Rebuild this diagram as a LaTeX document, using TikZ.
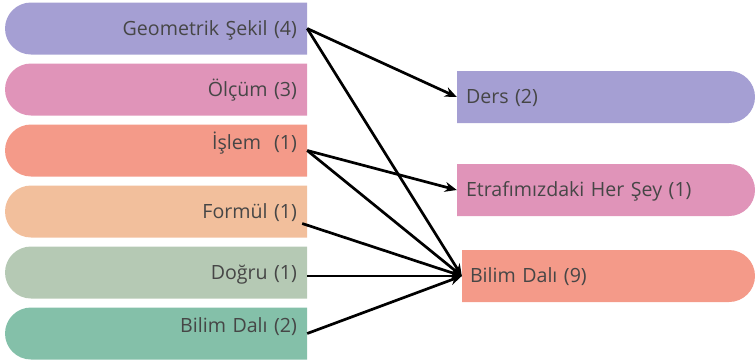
\documentclass[tikz,border=0pt]{standalone}
\usepackage{fontspec}
\setmainfont{Open Sans}
\usetikzlibrary{positioning, arrows.meta}
\definecolor{lila}{RGB}{165,159,211}
\definecolor{pembe}{RGB}{224,148,185}
\definecolor{somon}{RGB}{244,154,137}
\definecolor{seftali}{RGB}{242,191,156}
\definecolor{adacayi}{RGB}{181,201,180}
\definecolor{yesil}{RGB}{132,192,169}
\definecolor{yazi}{RGB}{70,70,70}
\tikzset{
  lbox/.style={rectangle, minimum width=302pt, minimum height=52pt, text width=282pt, inner xsep=10pt, align=right,
    text height=17.5pt, text depth=4pt, text=yazi, font=\fontsize{19.6}{22}\selectfont,
    path picture={\fill[#1] (path picture bounding box.north east) -- (path picture bounding box.south east)
      -- ([xshift=26pt]path picture bounding box.south west) arc[start angle=270, end angle=90, radius=26pt] -- cycle;}},
  rbox/.style={rectangle, minimum width=298pt, minimum height=52pt, text width=280pt, inner xsep=9pt, align=left,
    text height=17pt, text depth=4pt, text=yazi, font=\fontsize{19.6}{22}\selectfont,
    path picture={\fill[#1] (path picture bounding box.north west) -- ([xshift=-26pt]path picture bounding box.north east)
      arc[start angle=90, end angle=-90, radius=26pt] -- (path picture bounding box.south west) -- cycle;}},
  raised/.style={text depth=20pt}
}
\begin{document}
\begin{tikzpicture}[x=1pt, y=1pt, >={Stealth[length=12pt, width=10pt]}]
    \useasboundingbox (0,0) rectangle (755,-362);
    % sol sutun
    \node[lbox=lila] (geo) at (156,-28.5) {Geometrik Şekil (4)};
    \node[lbox=pembe] (olcum) [below=8.6pt of geo] {Ölçüm (3)};
    \node[lbox=somon, raised] (islem) [below=8.6pt of olcum] {İşlem~~(1)};
    \node[lbox=seftali] (formul) [below=8.6pt of islem] {Formül (1)};
    \node[lbox=adacayi] (dogru) [below=8.6pt of formul] {Doğru (1)};
    \node[lbox=yesil, raised] (bilim2) [below=8.6pt of dogru] {Bilim Dalı (2)};
    % sag sutun
    \node[rbox=lila] (ders) at (606,-97) {Ders (2)};
    \node[rbox=pembe] (etraf) at (606,-190) {Etrafımızdaki Her Şey (1)};
    \node[rbox=somon, minimum width=293pt, text width=277pt, inner xsep=8pt] (bilim9) at (608.5,-276) {Bilim Dalı (9)};

    \draw[->, line width=2.7pt] (geo.east) -- (ders.west);
    \draw[->, line width=2.7pt] (geo.east) -- (bilim9.west);
    \draw[->, line width=2.7pt] (islem.east) -- (etraf.west);
    \draw[->, line width=2.7pt] (islem.east) -- (bilim9.west);
    \draw[->, line width=2.7pt] ([xshift=-5pt, yshift=-12pt]formul.east) -- (bilim9.west);
    \draw[->, line width=2.7pt] (dogru.east |- bilim9.west) -- (bilim9.west);
    \draw[->, line width=2.7pt] (bilim2.east) -- (bilim9.west);
\end{tikzpicture}
\end{document}
